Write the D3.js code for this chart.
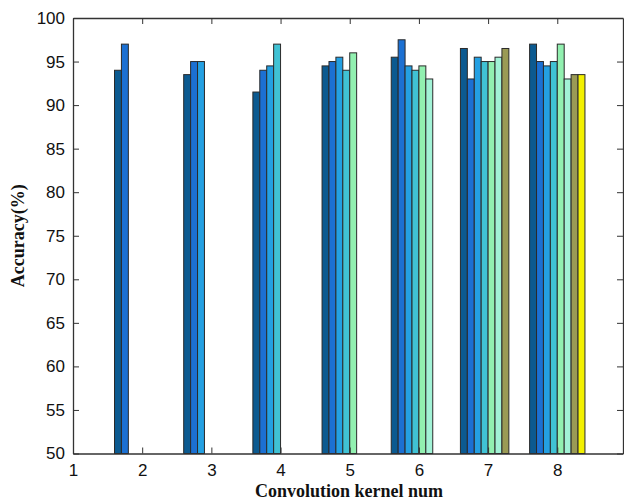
<!DOCTYPE html>
<html>
<head>
<meta charset="utf-8">
<script src="https://cdn.jsdelivr.net/npm/d3@7"></script>
<style>
  body { margin: 0; background: #fff; }
  .tick text { font-family: "Liberation Sans", Arial, sans-serif; font-size: 17px; fill: #111; }
  .label { font-family: "Liberation Serif", "Times New Roman", serif; font-weight: bold; font-size: 18px; fill: #111; }
</style>
</head>
<body>
<svg id="chart"></svg>
<script>
// kernel numbers on the x axis (one group each)
var groups = [2, 3, 4, 5, 6, 7, 8];
var xTicks = [1, 2, 3, 4, 5, 6, 7, 8];
var yTicks = [50, 55, 60, 65, 70, 75, 80, 85, 90, 95, 100];

// one array per series, null = no bar in that group
var s1 = [94, 93.5, 91.5, 94.5, 95.5, 96.5, 97];
var s2 = [97, 95, 94, 95, 97.5, 93, 95];
var s3 = [null, 95, 94.5, 95.5, 94.5, 95.5, 94.5];
var s4 = [null, null, 97, 94, 94, 95, 95];
var s5 = [null, null, null, 96, 94.5, 95, 97];
var s6 = [null, null, null, null, 93, 95.5, 93];
var s7 = [null, null, null, null, null, 96.5, 93.5];
var s8 = [null, null, null, null, null, null, 93.5];
var seriesList = [s1, s2, s3, s4, s5, s6, s7, s8];
var colors = ["#0c5a90", "#1c70d2", "#24a0e2", "#40c2d4", "#92f0b0", "#a2f2d6", "#9a9a55", "#f2f000"];

var W = 624, H = 503;
var plot = {left: 73, right: 623, top: 18, bottom: 453.5};

var svg = d3.select("#chart").attr("width", W).attr("height", H);

var xScale = d3.scaleLinear().domain([1, 8.95]).range([plot.left, plot.right]);
var yScale = d3.scaleLinear().domain([50, 100]).range([plot.bottom, plot.top]);
var inner = d3.scaleBand().domain(d3.range(seriesList.length)).range([-0.4, 0.4]);

// bars
var rows = [];
seriesList.forEach(function(s, si) {
  s.forEach(function(v, gi) {
    if (v != null) rows.push({g: groups[gi], s: si, v: v});
  });
});

svg.append("g")
  .selectAll("rect")
  .data(rows)
  .enter()
  .append("rect")
  .attr("x", function(d) { return xScale(d.g + inner(d.s)); })
  .attr("width", function(d) { return xScale(d.g + inner(d.s) + inner.bandwidth()) - xScale(d.g + inner(d.s)); })
  .attr("y", function(d) { return yScale(d.v); })
  .attr("height", function(d) { return yScale(50) - yScale(d.v); })
  .attr("fill", function(d) { return colors[d.s]; })
  .attr("stroke", "#2a2a2a")
  .attr("stroke-width", 1);

// axes, ticks point inward
var axes = svg.append("g");
axes.append("g")
  .attr("transform", "translate(0," + plot.bottom + ")")
  .call(d3.axisBottom(xScale).tickValues(xTicks).tickSizeInner(-6).tickSizeOuter(0).tickPadding(10));
axes.append("g")
  .attr("transform", "translate(0," + plot.top + ")")
  .call(d3.axisTop(xScale).tickValues(xTicks).tickSizeInner(-6).tickSizeOuter(0).tickFormat(""));
axes.append("g")
  .attr("transform", "translate(" + plot.left + ",0)")
  .call(d3.axisLeft(yScale).tickValues(yTicks).tickSizeInner(-6).tickSizeOuter(0).tickPadding(8));
axes.append("g")
  .attr("transform", "translate(" + plot.right + ",0)")
  .call(d3.axisRight(yScale).tickValues(yTicks).tickSizeInner(-6).tickSizeOuter(0).tickFormat(""));
axes.selectAll(".domain").attr("stroke", "#333").attr("stroke-width", 1.3);
axes.selectAll(".tick line").attr("stroke", "#333");

// axis titles
svg.append("text")
  .classed("label", true)
  .attr("text-anchor", "middle")
  .attr("x", 349)
  .attr("y", 497)
  .text("Convolution kernel num");

svg.append("text")
  .classed("label", true)
  .attr("text-anchor", "middle")
  .attr("transform", "translate(24," + ((plot.top + plot.bottom) / 2) + ") rotate(-90)")
  .text("Accuracy(%)");
</script>
</body>
</html>
